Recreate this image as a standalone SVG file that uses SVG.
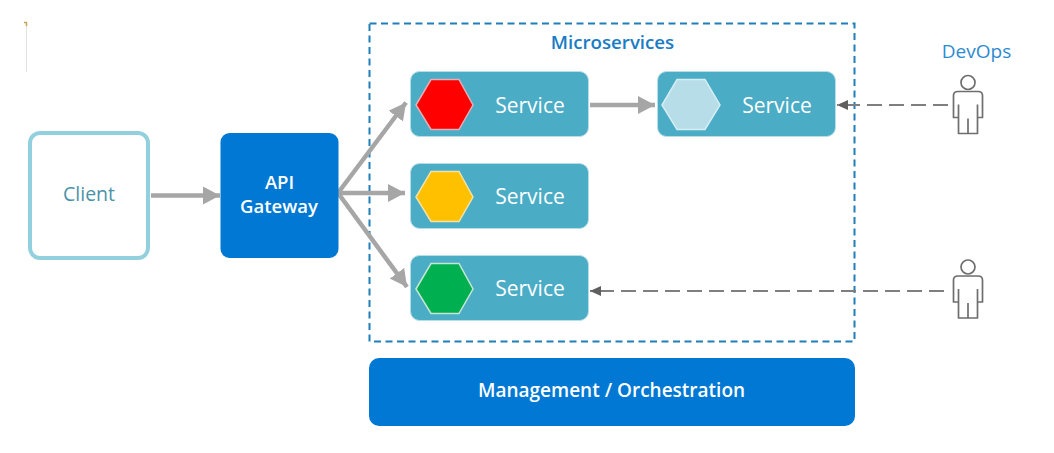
<svg xmlns="http://www.w3.org/2000/svg" width="1054" height="453" viewBox="0 0 1054 453">
<style>
text{font-family:"Open Sans","Noto Sans","Liberation Sans",sans-serif;text-anchor:middle}
.svc{fill:#4bacc6;stroke:#b8dde8;stroke-width:1}
.lbl{fill:#fff;font-size:21px}
.hex{stroke-width:1.5}
.arr{fill:none;stroke:#a6a6a6;stroke-width:4.5}
.dash{fill:none;stroke:#7f7f7f;stroke-width:2;stroke-dasharray:15 7}
.person{fill:#fff;stroke:#6e6e6e;stroke-width:1.700;stroke-linejoin:round}
</style>
<defs>
<marker id="big" markerUnits="userSpaceOnUse" markerWidth="20" markerHeight="20" refX="17" refY="10" orient="auto"><path d="M0 1L17 10L0 19Z" fill="#a6a6a6"/></marker>
<marker id="small" markerUnits="userSpaceOnUse" markerWidth="12" markerHeight="12" refX="11" refY="6" orient="auto"><path d="M0 1L11 6L0 11Z" fill="#5f5f5f"/></marker>
<g id="p"><circle cx="0" cy="-25" r="7"/><path d="M-10 -16H10Q14.500 -16 14.500 -12V10H9.500V-3M9.500 10V26H-9.500V10M-9.500 -3V10H-14.500V-12Q-14.500 -16 -10 -16M0 11V26"/></g>
</defs>
<rect width="1054" height="453" fill="#fff"/>
<g id="artifact"><path d="M26.500 24V72" stroke="#e2e2e2" fill="none"/><path d="M24 22.500H26.500V26" stroke="#c9a24f" stroke-width="1.500" fill="none"/></g>
<g id="microservices"><rect x="369.500" y="23.500" width="485" height="318" fill="none" stroke="#1f7fb8" stroke-width="2" stroke-dasharray="7 4.500"/><text x="612.500" y="49" font-size="18.700" font-weight="600" fill="#1a7cc4">Microservices</text></g>
<g id="connectors">
<path class="arr" d="M151 195.500H220" marker-end="url(#big)"/>
<path class="arr" d="M338 193L406 102.500" marker-end="url(#big)"/>
<path class="arr" d="M338 193H405" marker-end="url(#big)"/>
<path class="arr" d="M338 193L407 287" marker-end="url(#big)"/>
<path class="arr" d="M590 105H655" marker-end="url(#big)"/>
<path class="dash" d="M948 105H837" marker-end="url(#small)"/>
<path class="dash" d="M944 291H590" marker-end="url(#small)"/>
</g>
<g id="client"><rect x="30" y="133" width="118" height="125" rx="10" fill="#fff" stroke="#92d0de" stroke-width="4"/><text x="89" y="201" font-size="19.500" fill="#4a93a8">Client</text></g>
<g id="gateway"><rect x="220.500" y="133" width="118" height="125" rx="9" fill="#0078d4"/><text x="279.500" y="189" font-size="18.500" font-weight="600" fill="#fff">API</text><text x="279" y="213" font-size="18.500" font-weight="600" fill="#fff">Gateway</text></g>
<g id="svc-red"><rect class="svc" x="410.500" y="71.500" width="178" height="65" rx="9"/><polygon class="hex" points="416,105 431,79.500 459,79.500 473,105 459,129.500 431,129.500" fill="#f00" stroke="#e0b0b8"/><text class="lbl" x="530" y="112.500">Service</text></g>
<g id="svc-light"><rect class="svc" x="657.500" y="71.500" width="178" height="65" rx="9"/><polygon class="hex" points="662,105 677,79.500 705,79.500 720,105 705,129.500 677,129.500" fill="#b7dde8" stroke="#d5edf3"/><text class="lbl" x="777" y="112.500">Service</text></g>
<g id="svc-yellow"><rect class="svc" x="410.500" y="163.500" width="178" height="65" rx="9"/><polygon class="hex" points="416,197 431,171.500 459,171.500 473,197 459,221.500 431,221.500" fill="#ffc000" stroke="#f2e2a8"/><text class="lbl" x="530" y="203.500">Service</text></g>
<g id="svc-green"><rect class="svc" x="410.500" y="255.500" width="178" height="65" rx="9"/><polygon class="hex" points="416,289 431,263.500 459,263.500 473,289 459,313.500 431,313.500" fill="#00b050" stroke="#c5e6d3"/><text class="lbl" x="530" y="295.500">Service</text></g>
<g id="devops-label"><text x="976.500" y="58" font-size="19" fill="#2e8bd0">DevOps</text></g>
<use id="person1" href="#p" class="person" x="968" y="107.500"/>
<use id="person2" href="#p" class="person" x="968" y="292"/>
<g id="management"><rect x="369" y="358" width="486" height="68" rx="10" fill="#0078d4"/><text x="611.500" y="397" font-size="19" font-weight="600" fill="#fff">Management / Orchestration</text></g>
</svg>
